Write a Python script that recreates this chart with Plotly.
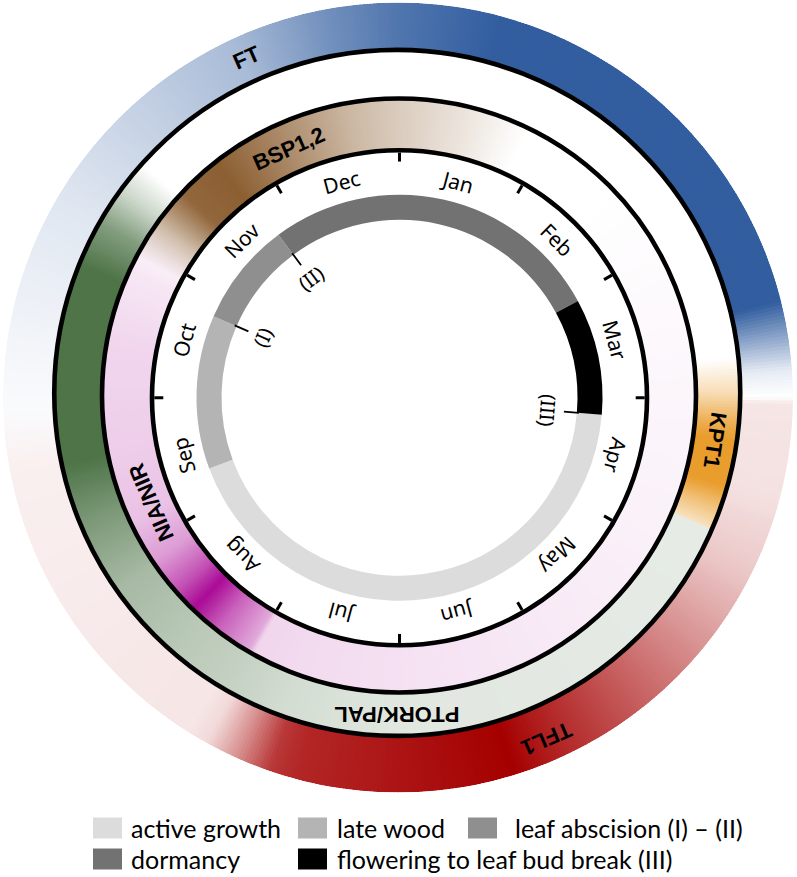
import numpy as np
import plotly.graph_objects as go

W, H = 797, 877

# ---------------- data ----------------
MONTHS = ["Jan", "Feb", "Mar", "Apr", "May", "Jun", "Jul", "Aug", "Sep", "Oct", "Nov", "Dec"]

# phenology phases: positions in months from 1 January (clockwise from top)
PHASE_NAMES = ["active growth", "late wood", "leaf abscision\u00a0(I) \u2013 (II)",
               "dormancy", "flowering to leaf bud break (III)"]
PHASE_START = [3.16, 8.32, 9.79, 10.78, 2.05]
PHASE_END = [8.32, 9.79, 10.78, 14.05, 3.16]
PHASE_COLORS = ["#dcdcdc", "#b4b4b4", "#8f8f8f", "#727272", "#000000"]

MARK_LABELS = ["(I)", "(II)", "(III)"]
MARK_POS = [9.79, 10.78, 3.16]

# gene expression key points: month position, relative intensity (0..1)
FT_POS = [8.67, 9.17, 10.0, 10.67, 11.17, 11.67, 12.0, 12.5, 14.53, 14.87, 15.0]
FT_VAL = [0, 0.05, 0.15, 0.3, 0.42, 0.7, 0.85, 1.0, 1.0, 0.12, 0]

TFL1_POS = [3.0, 3.033, 3.5, 3.9, 4.267, 4.667, 5.167, 5.433, 6.0, 6.5, 6.633, 6.8, 6.967, 7.067, 7.5, 8.667, 8.933]
TFL1_VAL = [0, 0.1, 0.12, 0.22, 0.4, 0.6, 0.85, 1.0, 0.92, 0.85, 0.78, 0.45, 0.15, 0.1, 0.09, 0.06, 0]

KPT1_POS = [2.8, 3.0, 3.167, 3.267, 3.533, 3.667, 3.783]
KPT1_VAL = [0, 0.35, 0.8, 1.0, 1.0, 0.6, 0.3]

PTORK_POS = [3.787, 6.0, 6.667, 7.0, 7.4, 7.833, 8.267, 8.6, 9.733, 10.0, 10.2, 10.4]
PTORK_VAL = [0.14, 0.17, 0.25, 0.33, 0.4, 0.5, 0.75, 1.0, 1.0, 0.7, 0.3, 0]

BSP_POS = [9.933, 10.167, 10.433, 10.733, 11.2, 11.667, 12.0, 12.5, 12.867]
BSP_VAL = [0, 0.4, 0.95, 1.0, 0.72, 0.45, 0.32, 0.15, 0]

NIA_POS = [1.5, 2.667, 4.0, 5.333, 6.667, 6.983, 7.017, 7.267, 7.467, 7.633, 7.867, 8.167, 8.667, 9.333, 9.833, 10.167]
NIA_VAL = [0, 0.03, 0.06, 0.1, 0.15, 0.17, 0.35, 0.65, 1.0, 0.7, 0.4, 0.25, 0.2, 0.17, 0.1, 0]

GENE_LABELS = ["FT", "TFL1", "KPT1", "PTORK/PAL", "BSP1,2", "NIA/NIR"]
GENE_LABEL_POS = [11.2, 5.217, 3.28, 6.0, 11.2, 8.223]
GENE_LABEL_RING = ["A", "A", "B", "B", "C", "C"]

# ---------------- styling / geometry ----------------
BLUE = (50, 94, 160)
RED = (165, 0, 0)
ORANGE = (233, 157, 45)
GREEN = (78, 116, 72)
BROWN = (140, 95, 50)
MAGENTA = (170, 10, 150)

RINGS = {
    "A": dict(center=(398.0, 397.5), R=395.0, inner=335.0, label_r=372),
    "B": dict(center=(397.25, 392.9), R=343.0, inner=286.0, label_r=321),
    "C": dict(center=(399.0, 395.5), R=297.0, inner=238.0, label_r=270),
    "M": dict(center=(399.5, 397.75), R=247.5),
}
GRAY_IN, GRAY_OUT = 178.0, 203.0
LINE_W = 4.6
STEP = 0.5  # degrees per gradient bin
DEG_PER_MONTH = 30.0


def level(pos, val, months):
    pos = np.asarray(pos, float)
    val = np.asarray(val, float)
    out = np.zeros_like(months)
    for shift in (0.0, 12.0, -12.0):
        m = months + shift
        inside = (m >= pos[0]) & (m <= pos[-1])
        out = np.where(inside, np.interp(m, pos, val), out)
    return out


def mix(base_rgb, t, under):
    t = t[:, None]
    return under * (1 - t) + np.array(base_rgb, float)[None, :] * t


def to_css(arr):
    return ["rgb(%d,%d,%d)" % tuple(np.clip(np.round(c), 0, 255)) for c in arr]


theta_deg = (np.arange(int(360 / STEP)) + 0.5) * STEP
months = theta_deg / DEG_PER_MONTH
white = np.full((len(theta_deg), 3), 255.0)

colA = mix(RED, level(TFL1_POS, TFL1_VAL, months), mix(BLUE, level(FT_POS, FT_VAL, months), white))
colB = mix(GREEN, level(PTORK_POS, PTORK_VAL, months), mix(ORANGE, level(KPT1_POS, KPT1_VAL, months), white))
colC = mix(BROWN, level(BSP_POS, BSP_VAL, months), mix(MAGENTA, level(NIA_POS, NIA_VAL, months), white))

fig = go.Figure()


def polar_domain(key):
    cx, cy = RINGS[key]["center"]
    R = RINGS[key]["R"]
    return dict(x=[(cx - R) / W, (cx + R) / W], y=[1 - (cy + R) / H, 1 - (cy - R) / H])


def add_ring(colors, key, subplot):
    ring = RINGS[key]
    n = len(theta_deg)
    fig.add_trace(go.Barpolar(
        theta=theta_deg, r=[ring["R"] - ring["inner"]] * n, base=[ring["inner"]] * n,
        width=[STEP * 1.3] * n, marker=dict(color=to_css(colors), line=dict(width=0)),
        subplot=subplot, hoverinfo="skip", showlegend=False))


add_ring(colA, "A", "polar")
add_ring(colB, "B", "polar2")
add_ring(colC, "C", "polar3")

# phenology ring
for name, s, e, c in zip(PHASE_NAMES, PHASE_START, PHASE_END, PHASE_COLORS):
    fig.add_trace(go.Barpolar(
        theta=[(s + e) / 2 * DEG_PER_MONTH], r=[GRAY_OUT - GRAY_IN], base=[GRAY_IN],
        width=[(e - s) * DEG_PER_MONTH], marker=dict(color=c, line=dict(width=0)),
        subplot="polar4", name=name, hoverinfo="skip", showlegend=False))

# marker ticks (I) (II) (III)
for p in MARK_POS:
    fig.add_trace(go.Scatterpolar(
        r=[GRAY_IN + 2, GRAY_IN - 13], theta=[p * DEG_PER_MONTH] * 2, mode="lines",
        line=dict(color="black", width=1.8), subplot="polar4", hoverinfo="skip", showlegend=False))


def polar_cfg(key, bg, line):
    R = RINGS[key]["R"]
    ang = dict(rotation=90, direction="clockwise", showgrid=False, showticklabels=False,
               ticks="", showline=line, linecolor="black", linewidth=LINE_W)
    return dict(domain=polar_domain(key), bgcolor=bg, hole=0,
                radialaxis=dict(range=[0, R], visible=False, showgrid=False),
                angularaxis=ang)


layout = dict(
    polar=polar_cfg("A", "rgba(0,0,0,0)", False),
    polar2=polar_cfg("B", "white", True),
    polar3=polar_cfg("C", "white", True),
    polar4=polar_cfg("M", "white", True),
)
layout["polar4"]["angularaxis"].update(
    ticks="inside", ticklen=9, tickwidth=2.5, tickcolor="black",
    tickmode="array", tickvals=[i * DEG_PER_MONTH for i in range(12)])
fig.update_layout(**layout)


def to_paper(key, r, month_pos):
    cx, cy = RINGS[key]["center"]
    a = np.deg2rad(month_pos * DEG_PER_MONTH)
    return (cx + r * np.sin(a)) / W, 1 - (cy - r * np.cos(a)) / H


def angle_of(month_pos):
    a = (month_pos * DEG_PER_MONTH) % 360
    return a - 360 if a > 180 else a


annotations = []
MONTH_FONT = dict(family="Noto Sans", size=21, color="black")
for i, m in enumerate(MONTHS):
    p = i + 0.5
    x, y = to_paper("M", 223, p)
    annotations.append(dict(x=x, y=y, xref="paper", yref="paper", text=m, showarrow=False,
                            textangle=angle_of(p), font=MONTH_FONT, xanchor="center", yanchor="middle"))

GENE_FONT = dict(family="Liberation Sans", size=22, color="black")
for lab, p, key in zip(GENE_LABELS, GENE_LABEL_POS, GENE_LABEL_RING):
    x, y = to_paper(key, RINGS[key]["label_r"], p)
    annotations.append(dict(x=x, y=y, xref="paper", yref="paper", text="<b>%s</b>" % lab, showarrow=False,
                            textangle=angle_of(p), font=GENE_FONT, xanchor="center", yanchor="middle"))

MARK_FONT = dict(family="Noto Sans", size=20, color="black")
for lab, p in zip(MARK_LABELS, MARK_POS):
    x, y = to_paper("M", 149, p)
    annotations.append(dict(x=x, y=y, xref="paper", yref="paper", text=lab, showarrow=False,
                            textangle=angle_of(p), font=MARK_FONT, xanchor="center", yanchor="middle"))

# legend (manual, two rows)
LEG_FONT = dict(family="Lato", size=25, color="black")
leg_slots = [(93, 828), (298, 828), (468, 828), (93, 859), (298, 859)]
text_gap = [7, 8, 16, 7, 8]
SW_W, SW_H = 29, 21
shapes = []
for (lx, ly), gap, name, c in zip(leg_slots, text_gap, PHASE_NAMES, PHASE_COLORS):
    shapes.append(dict(type="rect", xref="paper", yref="paper",
                       x0=lx / W, x1=(lx + SW_W) / W, y0=1 - (ly + SW_H / 2) / H, y1=1 - (ly - SW_H / 2) / H,
                       fillcolor=c, line=dict(width=0), layer="above"))
    annotations.append(dict(x=(lx + SW_W + gap) / W, y=1 - ly / H, xref="paper", yref="paper", text=name,
                            showarrow=False, font=LEG_FONT, xanchor="left", yanchor="middle"))

fig.update_layout(annotations=annotations, shapes=shapes, width=W, height=H, autosize=False,
                  margin=dict(l=0, r=0, t=0, b=0), paper_bgcolor="white", plot_bgcolor="white",
                  showlegend=False)

fig.write_html("out.html", config={"displayModeBar": False},
               post_script="document.body.style.margin='0';")
